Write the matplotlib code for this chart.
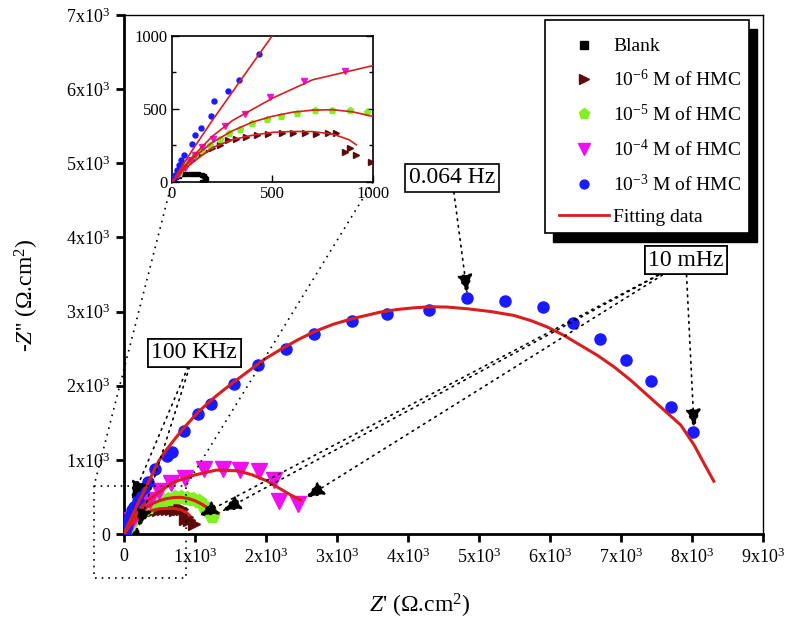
import matplotlib
matplotlib.use('Agg')
import matplotlib.pyplot as plt
from matplotlib.lines import Line2D
from matplotlib.patches import Rectangle
from matplotlib.ticker import FuncFormatter, MultipleLocator

plt.rcParams['font.family'] = ['Liberation Serif', 'DejaVu Serif']
plt.rcParams['mathtext.fontset'] = 'custom'
plt.rcParams['mathtext.rm'] = 'Liberation Serif'
plt.rcParams['mathtext.it'] = 'Liberation Serif:italic'
plt.rcParams['mathtext.bf'] = 'Liberation Serif:bold'

# data (Z', -Z'' in ohm.cm2)
blank_x = [2, 8, 20, 35, 50, 66, 90, 110, 132, 148, 157, 165, 169, 162, 149]
blank_y = [5, 16, 32, 44, 52, 57, 58, 57, 55, 48, 39, 30, 20, 8, 2]

m6_x = [33, 66, 99, 132, 165, 198, 240, 281, 319, 369, 421, 479, 545, 603, 661, 719, 777, 818, 860, 884, 917, 990]
m6_y = [73, 107, 153, 187, 210, 232, 255, 285, 294, 308, 319, 328, 335, 335, 335, 330, 335, 335, 203, 232, 187, 140]

m5_x = [33, 58, 83, 116, 149, 190, 240, 284, 339, 397, 471, 542, 620, 711, 797, 888, 972, 1050, 1130, 1190, 1240]
m5_y = [62, 107, 141, 187, 221, 255, 296, 335, 364, 403, 431, 453, 472, 494, 494, 490, 478, 440, 380, 310, 240]

m4_x = [30, 66, 91, 116, 149, 202, 264, 364, 488, 656, 860, 1133, 1401, 1636, 1904, 2106, 2186, 2444]
m4_y = [45, 96, 141, 187, 237, 296, 380, 465, 579, 692, 760, 878, 878, 864, 851, 730, 448, 403]

m3_x = [8, 17, 25, 33, 45, 58, 99, 116, 144, 193, 207, 281, 334, 433, 602, 673, 850, 1048, 1223, 1551,
        1894, 2281, 2680, 3216, 3705, 4302, 4834, 5360, 5900, 6323, 6700, 7066, 7419, 7711, 8021]
m3_y = [27, 50, 84, 118, 153, 187, 262, 323, 369, 449, 558, 620, 699, 875, 1058, 1112, 1389, 1613, 1747, 2030,
        2276, 2491, 2702, 2876, 2970, 3015, 3181, 3149, 3060, 2845, 2634, 2348, 2066, 1711, 1371]

# fitted curves
fit6_x = [0, 50, 100, 200, 300, 400, 500, 600, 700, 800, 880, 917]
fit6_y = [0, 70, 130, 235, 290, 320, 340, 346, 345, 328, 290, 255]
fit5_x = [0, 50, 100, 200, 300, 400, 500, 600, 700, 800, 900, 1000, 1100, 1200, 1330]
fit5_y = [0, 80, 160, 270, 350, 410, 450, 478, 492, 495, 480, 449, 400, 340, 282]
fit4_x = [0, 50, 100, 200, 300, 500, 700, 1000, 1300, 1600, 1800, 2013, 2200, 2341, 2482]
fit4_y = [0, 90, 170, 312, 420, 574, 700, 797, 862, 852, 800, 716, 610, 530, 461]
fit3_x = [0, 100, 200, 300, 400, 493, 600, 813, 1048, 1283, 1519, 1894, 2000, 2224, 2450, 2680, 2950, 3216,
          3611, 3846, 4080, 4316, 4551, 4833, 5162, 5491, 5726, 5962, 6196, 6432, 6667, 6902, 7137, 7372,
          7607, 7842, 8030, 8170, 8307]
fit3_y = [0, 215, 420, 615, 810, 990, 1140, 1400, 1649, 1851, 2030, 2298, 2370, 2500, 2620, 2730, 2830, 2905,
          2993, 3028, 3051, 3065, 3061, 3038, 3001, 2948, 2880, 2792, 2679, 2544, 2410, 2254, 2074, 1872,
          1671, 1469, 1200, 950, 712]

labels = ['Blank', '10$^{-6}$ M of HMC', '10$^{-5}$ M of HMC', '10$^{-4}$ M of HMC',
          '10$^{-3}$ M of HMC', 'Fitting data']

c_blank, c6, c5, c4, c3, c_fit = 'black', '#5c0a0a', '#80f020', '#ee10ee', '#1a1aff', '#d81e1e'

W, H = 791, 631
fig = plt.figure(figsize=(W / 100, H / 100), dpi=100)


def fx(px):
    return px / W


def fy(py):
    return 1 - py / H


ax = fig.add_axes([0.1568, 0.1537, 0.8078, 0.8225])
ax.set_xlim(0, 9000)
ax.set_ylim(0, 7000)

series = [(blank_x, blank_y, c_blank, 's', 3),
          (m6_x, m6_y, c6, '>', 9),
          (m5_x, m5_y, c5, 'p', 10),
          (m4_x, m4_y, c4, 'v', 11),
          (m3_x, m3_y, c3, 'o', 8)]
fits = [(fit6_x, fit6_y), (fit5_x, fit5_y), (fit4_x, fit4_y), (fit3_x, fit3_y)]

for xs, ys, c, m, ms in series:
    ax.plot(xs, ys, ls='none', marker=m, ms=ms, color=c, mec=c, zorder=3)
for xs, ys in fits:
    ax.plot(xs, ys, color=c_fit, lw=2.2, zorder=4, solid_joinstyle='round')

fmt = FuncFormatter(lambda v, p: '0' if v == 0 else r'%dx10$^{3}$' % round(v / 1000))
ax.xaxis.set_major_locator(MultipleLocator(1000))
ax.yaxis.set_major_locator(MultipleLocator(1000))
ax.xaxis.set_major_formatter(fmt)
ax.yaxis.set_major_formatter(fmt)
ax.tick_params(direction='out', length=6, width=2, labelsize=13, pad=4)
for s in ['left', 'bottom']:
    ax.spines[s].set_linewidth(2)
for s in ['top', 'right']:
    ax.spines[s].set_linewidth(1)
ax.set_xlabel("$\\mathit{Z}$' (\u03a9.cm$^{2}$)", fontsize=17)
ax.set_ylabel("-$\\mathit{Z}$'' (\u03a9.cm$^{2}$)", fontsize=17)
ax.xaxis.set_label_coords(0.463, -0.112)
ax.yaxis.set_label_coords(-0.13, 0.46)

# frequency annotations
arrow = dict(arrowstyle='-|>,head_length=0.7,head_width=0.28', linestyle=(0, (1, 3)),
             color='black', lw=1.2, shrinkA=0, shrinkB=0)
box = dict(boxstyle='square,pad=0.15', fc='white', ec='black', lw=1.2)
ax.annotate('0.064 Hz', xy=(4834, 3240), xytext=(4619, 4805), ha='center', va='center', fontsize=17,
            bbox=box, arrowprops=arrow, annotation_clip=False, zorder=6)
for tip in [(8030, 1425), (2553, 484), (1378, 305), (1048, 238)]:
    ax.annotate('10 mHz', xy=tip, xytext=(7913, 3690), ha='center', va='center', fontsize=17,
                bbox=box, arrowprops=arrow, annotation_clip=False, zorder=6)
for tip in [(108, 461), (202, 81)]:
    ax.annotate('100 KHz', xy=tip, xytext=(987, 2446), ha='center', va='center', fontsize=17,
                bbox=box, arrowprops=arrow, annotation_clip=False, zorder=6)

# zoom box and connector lines to inset
dot = dict(color='black', lw=1.2, ls=(0, (1, 3)), transform=fig.transFigure)
rx0, rx1, ry0, ry1 = 94, 186, 486, 578
fig.add_artist(Line2D([fx(rx0), fx(rx1), fx(rx1), fx(rx0), fx(rx0)],
                      [fy(ry0), fy(ry0), fy(ry1), fy(ry1), fy(ry0)], **dot))
fig.add_artist(Line2D([fx(172), fx(rx0)], [fy(182), fy(ry0)], **dot))
fig.add_artist(Line2D([fx(373), fx(rx1)], [fy(182), fy(ry0)], **dot))

# inset
axi = fig.add_axes([0.2174, 0.7116, 0.2541, 0.2314])
axi.set_xlim(0, 1000)
axi.set_ylim(0, 1000)
for xs, ys, c, m, ms in series:
    axi.plot(xs, ys, ls='none', marker=m, ms=max(2.5, ms * 0.45), color=c, mec=c, zorder=3)
for xs, ys in fits:
    axi.plot(xs, ys, color=c_fit, lw=1.2, zorder=4)
axi.xaxis.set_major_locator(MultipleLocator(500))
axi.yaxis.set_major_locator(MultipleLocator(500))
axi.yaxis.set_minor_locator(MultipleLocator(250))
axi.tick_params(which='both', direction='in', labelsize=12, width=1, right=True, pad=3)
axi.tick_params(which='major', length=5)
axi.tick_params(which='minor', length=3)
for s in axi.spines.values():
    s.set_linewidth(1.2)

# legend with black drop shadow
lx0, lx1, ly0, ly1 = 545, 749, 20, 233
fig.add_artist(Rectangle((fx(lx0 + 8), fy(ly1 + 9)), fx(lx1 - lx0), (ly1 - ly0) / H,
                         transform=fig.transFigure, fc='black', ec='black', zorder=7))
fig.add_artist(Rectangle((fx(lx0), fy(ly1)), fx(lx1 - lx0), (ly1 - ly0) / H,
                         transform=fig.transFigure, fc='white', ec='black', lw=1.2, zorder=8))
handles = [Line2D([], [], ls='none', marker=m, ms=ms * 0.8, color=c) for _, _, c, m, ms in series]
handles[0].set_markersize(6)
handles.append(Line2D([], [], color=c_fit, lw=2))
leg = fig.legend(handles, labels, loc='upper left', bbox_to_anchor=(fx(lx0 + 6), fy(ly0 + 10)),
                 frameon=False, fontsize=14, handlelength=2.6, handletextpad=0.2,
                 labelspacing=0.7, borderaxespad=0)
leg.set_zorder(9)

fig.savefig('out.png', dpi=100)
